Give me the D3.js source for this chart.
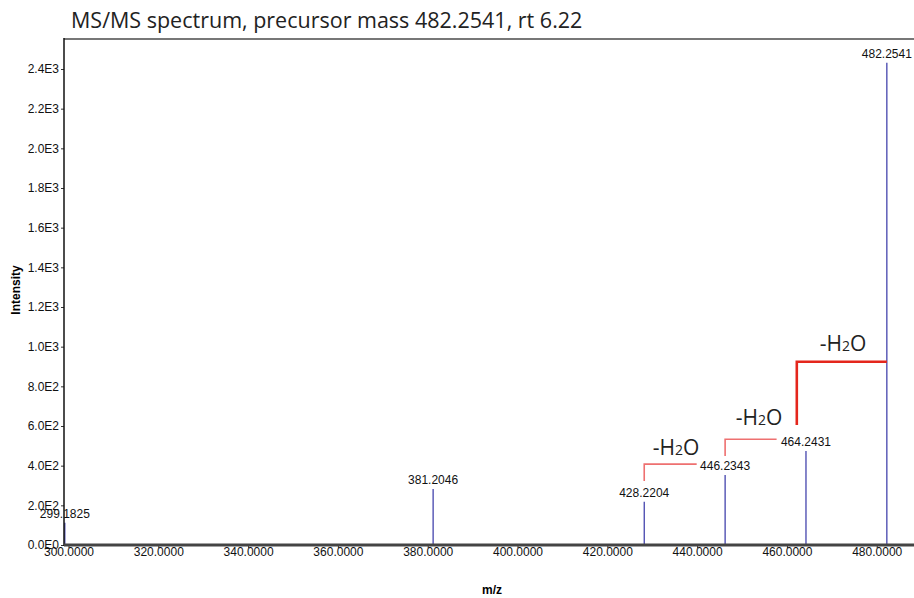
<!DOCTYPE html>
<html>
<head>
<meta charset="utf-8">
<script src="https://cdn.jsdelivr.net/npm/d3@7"></script>
<style>
  body { margin: 0; background: #fff; }
  .tick text { font-family: "Liberation Sans", Arial, sans-serif; font-size: 12px; fill: #111; }
</style>
</head>
<body>
<div id="chart"></div>
<script>
// peaks
var mzValues    = [299.1825, 381.2046, 428.2204, 446.2343, 464.2431, 482.2541];
var intensities = [112, 282, 218, 353, 474, 2431];
var peakLabels  = ["299.1825", "381.2046", "428.2204", "446.2343", "464.2431", "482.2541"];

var xTicks = [300, 320, 340, 360, 380, 400, 420, 440, 460, 480];
var yTicks = [0, 200, 400, 600, 800, 1000, 1200, 1400, 1600, 1800, 2000, 2200, 2400];

// water loss brackets: start m/z, end m/z, bracket level, bottom of vertical
var lossStart  = [428.2204, 446.2343, 462.2];
var lossEnd    = [439.9, 457.7, 482.2541];
var lossTop    = [408, 533, 924];
var lossBottom = [323, 449, 605];
var lossLabelMz = [435.3, 453.8, 472.5];
var lossLabelY  = [454, 605, 978];

var svg_w = 914, svg_h = 598;
var plotLeft = 64, plotRight = 914, plotTop = 39, plotBottom = 545;

var svg = d3.select("#chart")
      .append("svg")
      .attr("width", svg_w)
      .attr("height", svg_h);

var xScale = d3.scaleLinear()
      .domain([299.0, 488.3])
      .range([plotLeft, plotRight]);

var yScale = d3.scaleLinear()
      .domain([0, 2400])
      .range([plotBottom, 69]);

// title
svg.append("text")
  .attr("x", 71)
  .attr("y", 28)
  .style("font-family", "'Open Sans', 'Noto Sans', sans-serif")
  .style("font-size", "21.5px")
  .style("fill", "#222")
  .text("MS/MS spectrum, precursor mass 482.2541, rt 6.22");

// top border
svg.append("line")
  .attr("x1", plotLeft).attr("x2", plotRight)
  .attr("y1", plotTop).attr("y2", plotTop)
  .style("stroke", "#777")
  .style("stroke-width", 2);

// peaks
svg.selectAll(".peak")
  .data(mzValues)
  .enter()
  .append("line")
  .attr("class", "peak")
  .attr("x1", function(d) { return xScale(d); })
  .attr("x2", function(d) { return xScale(d); })
  .attr("y1", yScale(0))
  .attr("y2", function(d, i) { return yScale(intensities[i]); })
  .style("stroke", "#3434a6")
  .style("stroke-width", 1.2);

svg.selectAll(".peakLabel")
  .data(mzValues)
  .enter()
  .append("text")
  .attr("class", "peakLabel")
  .attr("x", function(d) { return xScale(d); })
  .attr("y", function(d, i) { return yScale(intensities[i]) - 5; })
  .attr("text-anchor", "middle")
  .style("font-family", "'Liberation Sans', Arial, sans-serif")
  .style("font-size", "12px")
  .style("fill", "#111")
  .text(function(d, i) { return peakLabels[i]; });

// axes
var xAxis = d3.axisBottom()
      .scale(xScale)
      .tickValues(xTicks)
      .tickFormat(d3.format(".4f"))
      .tickSizeOuter(0)
      .tickSize(3);

var yAxis = d3.axisLeft()
      .scale(yScale)
      .tickValues(yTicks)
      .tickFormat(function(d) {
        if (d == 0) return "0.0E0";
        var e = Math.floor(Math.log10(d));
        return (d / Math.pow(10, e)).toFixed(1) + "E" + e;
      })
      .tickSizeOuter(0)
      .tickSize(3);

var gx = svg.append("g")
  .attr("transform", "translate(0," + plotBottom + ")")
  .call(xAxis);
gx.select(".domain").remove();
gx.selectAll(".tick line").style("stroke", "#333");
gx.selectAll(".tick text").attr("dy", "0.71em").attr("y", 2);

var gy = svg.append("g")
  .attr("transform", "translate(" + plotLeft + ",0)")
  .call(yAxis);
gy.select(".domain").remove();
gy.selectAll(".tick line").style("stroke", "#333");
gy.selectAll(".tick text").attr("x", -5);

svg.append("line")
  .attr("x1", plotLeft).attr("x2", plotLeft)
  .attr("y1", plotTop - 1).attr("y2", plotBottom + 1)
  .style("stroke", "#111")
  .style("stroke-width", 1.5);

svg.append("line")
  .attr("x1", plotLeft).attr("x2", plotRight)
  .attr("y1", plotBottom).attr("y2", plotBottom)
  .style("stroke", "#444")
  .style("stroke-width", 3);

// axis titles
svg.append("text")
  .attr("x", 492)
  .attr("y", 594)
  .attr("text-anchor", "middle")
  .style("font-family", "'Liberation Sans', Arial, sans-serif")
  .style("font-size", "12px")
  .style("font-weight", "bold")
  .text("m/z");

svg.append("text")
  .attr("transform", "translate(20,290) rotate(-90)")
  .attr("text-anchor", "middle")
  .style("font-family", "'Liberation Sans', Arial, sans-serif")
  .style("font-size", "12px")
  .style("font-weight", "bold")
  .text("Intensity");

// -H2O brackets
var lossColor = ["#ee7070", "#ee7070", "#e4261c"];
var lossWidth = [1.6, 1.6, 2.6];

svg.selectAll(".loss")
  .data(lossStart)
  .enter()
  .append("path")
  .attr("class", "loss")
  .attr("d", function(d, i) {
    return "M" + xScale(d) + "," + yScale(lossBottom[i]) +
           "V" + yScale(lossTop[i]) +
           "H" + xScale(lossEnd[i]);
  })
  .style("fill", "none")
  .style("stroke", function(d, i) { return lossColor[i]; })
  .style("stroke-width", function(d, i) { return lossWidth[i]; });

var lossText = svg.selectAll(".lossLabel")
  .data(lossLabelMz)
  .enter()
  .append("text")
  .attr("class", "lossLabel")
  .attr("x", function(d) { return xScale(d); })
  .attr("y", function(d, i) { return yScale(lossLabelY[i]); })
  .attr("text-anchor", "middle")
  .style("font-family", "'Open Sans', 'Noto Sans', sans-serif")
  .style("font-size", "21px")
  .style("fill", "#222");

lossText.append("tspan").text("-H");
lossText.append("tspan").style("font-size", "14px").text("2");
lossText.append("tspan").text("O");
</script>
</body>
</html>
